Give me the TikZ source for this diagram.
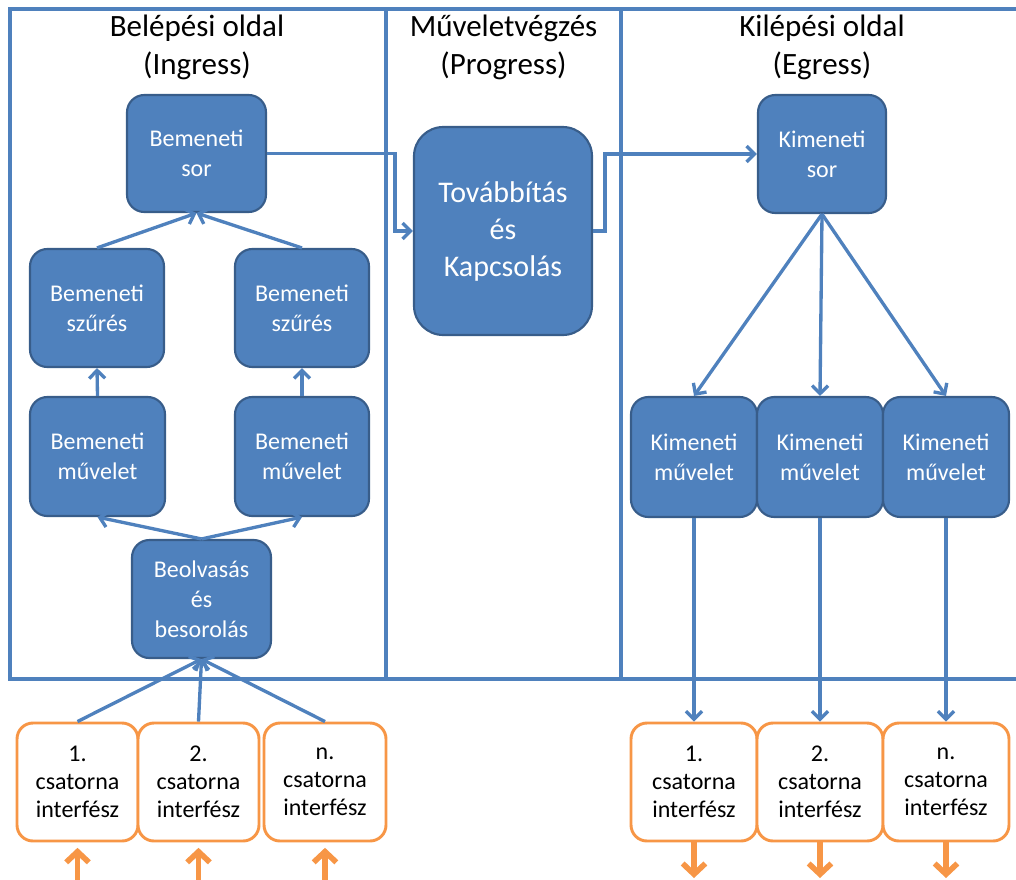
\documentclass[tikz,border=0pt]{standalone}
\usepackage{fontspec}
\setmainfont{Carlito}
\usetikzlibrary{arrows.meta}
\definecolor{accblue}{HTML}{4F81BD}
\definecolor{accblueline}{HTML}{385D8A}
\definecolor{accorange}{HTML}{F79646}
\newcommand\pxu{0.75pt}

\begin{document}
\begin{tikzpicture}[x=0.75pt,y=-0.75pt,
  proc/.style={draw=accblueline, line width=1.6pt, fill=accblue, rounded corners=13pt,
    text=white, align=center, inner sep=0pt,
    font=\fontsize{18}{22.5}\selectfont},
  bigproc/.style={proc, rounded corners=22pt, font=\fontsize{22.5}{27.75}\selectfont},
  port/.style={draw=accorange, line width=2.2pt, fill=white, rounded corners=12pt,
    align=center, inner sep=0pt, font=\fontsize{18}{21}\selectfont,
    minimum height=118*\pxu},
  title/.style={align=center, font=\fontsize{23.25}{28.5}\selectfont},
  frame/.style={draw=accblue, line width=2.5pt},
  flow/.style={draw=accblue, line width=2.5pt, -{Straight Barb[length=6pt,width=12pt]}},
  io/.style={draw=accorange, line width=4.2pt, -{Straight Barb[length=8pt,width=17pt]}},
]
\useasboundingbox (0,0) rectangle (1016,879);
\clip (0,0) rectangle (1016,879);

% panel frames
\draw[frame] (10,9) rectangle (1040,679);
\draw[frame] (386,9) -- (386,679);
\draw[frame] (621,9) -- (621,679);

% panel titles
\node[title] (tin)  at (197,47)   {Belépési oldal\\(Ingress)};
\node[title] (tpr)  at (503.5,47) {Műveletvégzés\\(Progress)};
\node[title] (teg)  at (822,47)   {Kilépési oldal\\(Egress)};

% ingress side
\node[proc, minimum width=139*\pxu, minimum height=117*\pxu] (isor) at (196.5,153.5) {Bemeneti\\sor};
\node[proc, minimum width=134*\pxu, minimum height=118*\pxu] (szL) at (97,308) {Bemeneti\\szűrés};
\node[proc, minimum width=134*\pxu, minimum height=118*\pxu] (szR) at (302,308) {Bemeneti\\szűrés};
\node[proc, minimum width=135*\pxu, minimum height=119*\pxu] (muL) at (97.5,456.5) {Bemeneti\\művelet};
\node[proc, minimum width=134*\pxu, minimum height=119*\pxu] (muR) at (302,456.5) {Bemeneti\\művelet};
\node[proc, minimum width=139*\pxu, minimum height=118*\pxu] (beo) at (201.5,599) {Beolvasás\\és\\besorolás};

% progress
\node[bigproc, minimum width=178*\pxu, minimum height=208*\pxu] (tov) at (503,231) {Továbbítás\\és\\Kapcsolás};

% egress side
\node[proc, minimum width=128*\pxu, minimum height=118*\pxu] (osor) at (822,154) {Kimeneti\\sor};
\node[proc, minimum width=126*\pxu, minimum height=120*\pxu] (km1) at (694,457) {Kimeneti\\művelet};
\node[proc, minimum width=126*\pxu, minimum height=120*\pxu] (km2) at (820,457) {Kimeneti\\művelet};
\node[proc, minimum width=126*\pxu, minimum height=120*\pxu] (km3) at (946,457) {Kimeneti\\művelet};

% channel interfaces
\node[port, minimum width=121*\pxu] (pi1) at (77.5,782) {1.\\csatorna\\interfész};
\node[port, minimum width=121*\pxu] (pi2) at (198.5,782) {2.\\csatorna\\interfész};
\node[port, minimum width=122*\pxu] (pi3) at (325,782) {n.\\csatorna\\interfész};
\node[port, minimum width=126*\pxu] (po1) at (694,782) {1.\\csatorna\\interfész};
\node[port, minimum width=126*\pxu] (po2) at (820,782) {2.\\csatorna\\interfész};
\node[port, minimum width=126*\pxu] (po3) at (946,782) {n.\\csatorna\\interfész};

% free ends of the external links
\coordinate (ein1) at (77.5,890);
\coordinate (ein2) at (198.5,890);
\coordinate (ein3) at (325,890);
\coordinate (eout1) at (694,878);
\coordinate (eout2) at (820,878);
\coordinate (eout3) at (946,878);
\coordinate (bend1) at (395,153.5);
\coordinate (bend2) at (605,231);

% ingress flow
\draw[flow] (pi1.north) -- (beo.south);
\draw[flow] (pi2.north) -- (beo.south);
\draw[flow] (pi3.north) -- (beo.south);
\draw[flow] (beo.north) -- (muL.south);
\draw[flow] (beo.north) -- (muR.south);
\draw[flow] (muL.north) -- (szL.south);
\draw[flow] (muR.north) -- (szR.south);
\draw[flow] (szL.north) -- (isor.south);
\draw[flow] (szR.north) -- (isor.south);

% through the switch
\draw[flow] (isor.east) -- (bend1) |- (tov.west);
\draw[flow] (tov.east) -- (bend2) |- (osor.west);

% egress flow
\draw[flow] (osor.south) -- (km1.north);
\draw[flow] (osor.south) -- (km2.north);
\draw[flow] (osor.south) -- (km3.north);
\draw[flow] (km1.south) -- (po1.north);
\draw[flow] (km2.south) -- (po2.north);
\draw[flow] (km3.south) -- (po3.north);

% external links
\draw[io, shorten >=4pt] (ein1) -- (pi1.south);
\draw[io, shorten >=4pt] (ein2) -- (pi2.south);
\draw[io, shorten >=4pt] (ein3) -- (pi3.south);
\draw[io] (po1.south) -- (eout1);
\draw[io] (po2.south) -- (eout2);
\draw[io] (po3.south) -- (eout3);
\end{tikzpicture}
\end{document}
